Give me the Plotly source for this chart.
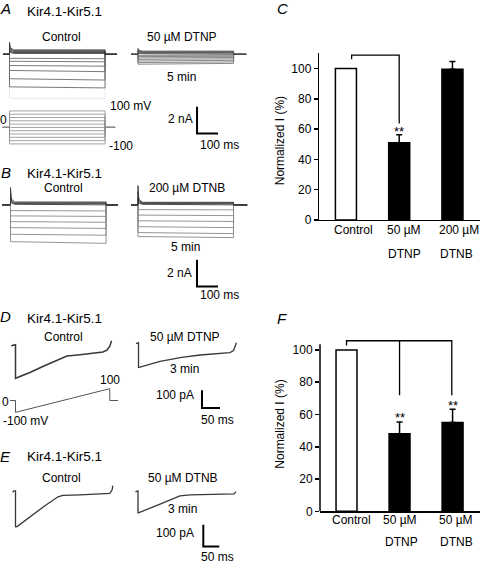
import plotly.graph_objects as go

W, H = 480, 569
FONT = "Arial, Liberation Sans, sans-serif"

# ---------------- data ----------------
# Panel A: Kir4.1-Kir5.1 currents (nA) during 455-ms voltage steps
A_step_ms = 455
A_ctrl_out_peak = [0.90, 0.65, 0.48, 0.36, 0.25]
A_ctrl_out_mid = [0.50, 0.40, 0.30, 0.22, 0.14]
A_ctrl_out_steady = [0.33, 0.27, 0.20, 0.13, 0.07]
A_ctrl_in_start = [-0.30, -0.52, -0.84, -1.21, -1.83, -2.44]
A_ctrl_in_end = [-0.33, -0.56, -0.89, -1.30, -1.93, -2.52]
A_ctrl_faint = [-3.30]
A_dtnp_out_peak = [0.45, 0.34, 0.25, 0.16, 0.09]
A_dtnp_out_mid = [0.30, 0.24, 0.18, 0.12, 0.06]
A_dtnp_out_steady = [0.24, 0.19, 0.14, 0.09, 0.04]
A_dtnp_in_start = [-0.08, -0.17, -0.27, -0.38, -0.50, -0.62, -0.74]
A_dtnp_in_end = [-0.07, -0.15, -0.24, -0.34, -0.45, -0.57, -0.68]
A_step_mV = [100, 80, 60, 40, 20, 0, -20, -40, -60, -80, -100]

# Panel B (nA)
B_ctrl_out_peak = [1.30, 0.90, 0.60, 0.35]
B_ctrl_out_mid = [0.45, 0.35, 0.25, 0.15]
B_ctrl_out_steady = [0.22, 0.16, 0.10, 0.05]
B_ctrl_in_start = [-0.42, -0.82, -1.25, -1.70, -2.20, -2.75]
B_ctrl_in_end = [-0.45, -0.86, -1.30, -1.76, -2.27, -2.88]
B_dtnb_out_peak = [1.45, 1.00, 0.60, 0.35]
B_dtnb_out_mid = [0.45, 0.35, 0.25, 0.15]
B_dtnb_out_steady = [0.20, 0.15, 0.10, 0.05]
B_dtnb_in_start = [-0.35, -0.76, -1.19, -1.63, -2.07, -2.37]
B_dtnb_in_end = [-0.37, -0.80, -1.24, -1.70, -2.15, -2.45]

# Panel D: ramp currents (ms, pA) and ramp protocol (ms, mV)
D_ctrl_t = [-12, -4, 0, 0, 4, 40, 82, 124, 143, 179, 221, 243, 254, 262, 267]
D_ctrl_I = [-6, 0, 0, -189, -186, -156, -117, -81, -64, -56, -47, -41, -31, -8, 22]
D_dtnp_t = [-7, -2, 0, 0, 4, 60, 120, 171, 226, 254, 264, 272]
D_dtnp_I = [6, 10, 11, -128, -126, -94, -71, -58, -50, -44, -33, 11]
D_ramp_t = [-15, 0, 0, 262, 262, 285]
D_ramp_mV = [0, 0, -100, 100, 0, 0]

# Panel E: ramp currents (ms, pA)
E_ctrl_t = [-9, -5, 0, 0, 5, 45, 92, 133, 148, 202, 264, 295, 302, 304]
E_ctrl_I = [-7, 0, 0, -165, -164, -118, -68, -27, -21, -18, -15, -11, 5, 24]
E_dtnb_t = [-8, -3, 0, 0, 3, 69, 131, 163, 241, 300, 306]
E_dtnb_I = [-5, 0, 0, -101, -100, -61, -23, -18, -16, -14, -3]

# Panels C and F: normalized current (%)
C_labels1 = ["Control", "50 µM", "200 µM"]
C_labels2 = ["", "DTNP", "DTNB"]
C_values = [100, 51, 99.6]
C_err = [0, 5.2, 5.0]
F_labels1 = ["Control", "50 µM", "50 µM"]
F_labels2 = ["", "DTNP", "DTNB"]
F_values = [100, 48, 55.1]
F_err = [0, 7.3, 8.2]
C_bracket_y = [106.1, 108.9, 63.7]
F_bracket_y = [102.8, 105.7, 72.0]
C_star = [(1, 58.5)]
F_star = [(1, 58.4), (2, 65.7)]

# ---------------- helpers ----------------
layout = dict(
    width=W, height=H, margin=dict(l=0, r=0, t=0, b=0),
    paper_bgcolor="white", plot_bgcolor="rgba(0,0,0,0)",
    showlegend=False, font=dict(family=FONT, color="black", size=12),
)
fig = go.Figure()


def pix_axes(n, x0, sx, y0, sy):
    layout[f"xaxis{n}"] = dict(domain=[0, 1], range=[-x0 / sx, (W - x0) / sx],
                               visible=False, fixedrange=True, anchor=f"y{n}")
    layout[f"yaxis{n}"] = dict(domain=[0, 1], range=[(y0 - H) / sy, y0 / sy],
                               visible=False, fixedrange=True, anchor=f"x{n}")


def step_xy(t0, T, pre, post, inner):
    xs, ys = [], []
    for pts in inner:
        xs += [t0 - pre, t0] + [t0 + t for t, _ in pts] + [t0 + T, t0 + T + post, None]
        ys += [0, 0] + [v for _, v in pts] + [0, 0, None]
    return xs, ys


def line(n, xs, ys, color, width):
    fig.add_trace(go.Scatter(x=xs, y=ys, mode="lines", xaxis=f"x{n}", yaxis=f"y{n}",
                             line=dict(color=color, width=width), hoverinfo="skip",
                             connectgaps=False))


def outward(T, pk, md, st):
    return [[(0, a), (4, b), (20, c), (T, c)] for a, b, c in zip(pk, md, st)]


def inward(T, s, e):
    return [[(0, a), (T, b)] for a, b in zip(s, e)]


def scalebar(n, t, i, dt, di):
    line(n, [t, t, t + dt], [i + di, i, i], "black", 2)


TRACE = "#6a6a6a"
DARK = "#383838"

# ---------------- Panel A ----------------
pix_axes(3, 9.5, 0.21, 55, 13.5)
T = A_step_ms
xs, ys = step_xy(0, T, 31, 57, inward(T, A_ctrl_faint, A_ctrl_faint))
line(3, xs, ys, "#e2e2e2", 0.8)
xs, ys = step_xy(0, T, 31, 57, inward(T, A_ctrl_in_start, A_ctrl_in_end))
line(3, xs, ys, TRACE, 0.9)
xs, ys = step_xy(0, T, 31, 57, outward(T, A_ctrl_out_peak, A_ctrl_out_mid, A_ctrl_out_steady))
line(3, xs, ys, DARK, 0.9)
t0 = 612
xs, ys = step_xy(t0, T, 33, 60, inward(T, A_dtnp_in_start, A_dtnp_in_end))
line(3, xs, ys, "#7a7a7a", 0.9)
xs, ys = step_xy(t0, T, 33, 60, outward(T, A_dtnp_out_peak, A_dtnp_out_mid, A_dtnp_out_steady))
line(3, xs, ys, "#505050", 0.9)
scalebar(3, 893, -5.93, 100, 2)

pix_axes(4, 9.5, 0.21, 129, 0.167)
xs, ys = step_xy(0, T, 33, 48, [[(0, v), (T, v)] for v in A_step_mV])
line(4, xs, ys, "#8c8c8c", 0.8)

# ---------------- Panel B ----------------
pix_axes(5, 10.5, 0.21, 207.5, 13.5)
xs, ys = step_xy(0, T, 40, 57, inward(T, B_ctrl_in_start, B_ctrl_in_end))
line(5, xs, ys, "#8a8a8a", 0.9)
xs, ys = step_xy(0, T, 40, 57, outward(T, B_ctrl_out_peak, B_ctrl_out_mid, B_ctrl_out_steady))
line(5, xs, ys, DARK, 0.9)
t0 = 607
xs, ys = step_xy(t0, T, 33, 65, inward(T, B_dtnb_in_start, B_dtnb_in_end))
line(5, xs, ys, "#8a8a8a", 0.9)
xs, ys = step_xy(t0, T, 33, 65, outward(T, B_dtnb_out_peak, B_dtnb_out_mid, B_dtnb_out_steady))
line(5, xs, ys, DARK, 0.9)
scalebar(5, 888, -6.11, 100, 2)

# ---------------- Panel D ----------------
pix_axes(6, 15.5, 0.36, 349, 0.18)
line(6, D_ctrl_t, D_ctrl_I, DARK, 1.5)
t0 = 341.7
line(6, [t0 + t for t in D_dtnp_t], D_dtnp_I, DARK, 1.3)
scalebar(6, 518, -355.6, 50, 100)
pix_axes(7, 15.5, 0.36, 405.5, 0.12)
line(7, D_ramp_t, D_ramp_mV, "#555555", 1)

# ---------------- Panel E ----------------
pix_axes(8, 15.5, 0.32, 497, 0.22)
line(8, E_ctrl_t, E_ctrl_I, DARK, 1.3)
t0 = 382.8
line(8, [t0 + t for t in E_dtnb_t], E_dtnb_I, DARK, 1.3)
scalebar(8, 586.9, -255.9, 50, 100)

# ---------------- Bar panels C (x/y) and F (x2/y2) ----------------
BAR_W = 0.395


def bars(ax, vals, errs):
    fig.add_trace(go.Bar(x=[0], y=[vals[0]], width=BAR_W, xaxis=f"x{ax}", yaxis=f"y{ax}",
                         marker=dict(color="white", line=dict(color="black", width=1.5)),
                         hoverinfo="skip"))
    fig.add_trace(go.Bar(x=[1, 2], y=vals[1:], width=BAR_W, xaxis=f"x{ax}", yaxis=f"y{ax}",
                         marker=dict(color="black", line=dict(color="black", width=1.5)),
                         error_y=dict(type="data", symmetric=False, array=errs[1:],
                                      arrayminus=[0, 0], color="black", thickness=1.5, width=3),
                         hoverinfo="skip"))


bars("", C_values, C_err)
bars("2", F_values, F_err)

# brackets
line("", [0.107, 0.107, 1, 1], [C_bracket_y[0], C_bracket_y[1], C_bracket_y[1], C_bracket_y[2]], "black", 1.3)
line("2", [0, 0, 1.985, 1.985], [F_bracket_y[0], F_bracket_y[1], F_bracket_y[1], F_bracket_y[2]], "black", 1.3)
line("2", [1, 1], [F_bracket_y[1], F_bracket_y[2]], "black", 1.3)

xr = [-0.5, 2.517]
layout["xaxis"] = dict(domain=[319.3 / W, 1], range=xr, showline=True, linecolor="black",
                       linewidth=1.5, ticks="", showticklabels=False, showgrid=False,
                       zeroline=False, fixedrange=True, anchor="y")
ycommon = dict(showgrid=False, zeroline=False, ticks="outside", ticklen=4, tickwidth=1.5,
               tickcolor="black", tickvals=[0, 20, 40, 60, 80, 100],
               tickfont=dict(size=12, family=FONT, color="black"), fixedrange=True)
layout["yaxis"] = dict(domain=[1 - 222.7 / H, 1 - 53.3 / H], range=[0, 110.5], showline=True,
                       linecolor="black", linewidth=1.5, anchor="x", **ycommon)
sF = 1.634
layout["xaxis2"] = dict(domain=[320 / W, 1], range=xr, showline=True, linecolor="black",
                        linewidth=1.5, ticks="", showticklabels=False, showgrid=False,
                        zeroline=False, fixedrange=True, anchor="y2")
layout["yaxis2"] = dict(domain=[1 - 517.7 / H, 1 - (517.7 - 110 * sF) / H], range=[0, 110],
                        showline=False, anchor="x2", **ycommon)
layout["shapes"] = [dict(type="line", xref="x2 domain", yref="y2", x0=0, x1=0, y0=0, y1=103.5,
                         line=dict(color="black", width=1.5))]

# ---------------- text ----------------
ann = []


def txt(s, x, y, size=12, xa="center", italic=False):
    ann.append(dict(text=f"<i>{s}</i>" if italic else s, x=x / W, y=1 - y / H, xref="paper",
                    yref="paper", xanchor=xa, yanchor="middle", showarrow=False,
                    font=dict(size=size, family=FONT, color="black")))


for letter, x, y in [("A", 5.5, 9), ("B", 5.5, 175), ("D", 5.5, 320), ("E", 5.5, 462),
                     ("C", 282.5, 9), ("F", 282, 322)]:
    txt(letter, x, y, 15, italic=True)
for y in [11.7, 175.7, 322.5, 462]:
    txt("Kir4.1-Kir5.1", 25, y, 13.5, xa="left")

txt("Control", 61, 37)
txt("50 µM DTNP", 181.7, 37)
txt("5 min", 181.7, 78.3)
txt("100 mV", 108, 107.5, xa="left")
txt("0", 3, 122)
txt("-100", 107, 148, xa="left")
txt("2 nA", 180, 120)
txt("100 ms", 219, 146.7)

txt("Control", 63, 190)
txt("200 µM DTNB", 186.7, 190)
txt("5 min", 185, 250)
txt("2 nA", 179, 276)
txt("100 ms", 219, 299)

txt("Control", 63.3, 341.7)
txt("50 µM DTNP", 185, 341.7)
txt("3 min", 184, 374)
txt("100", 110, 385)
txt("0", 5, 407)
txt("-100 mV", 25.5, 426)
txt("100 pA", 175, 400)
txt("50 ms", 217, 425.7)

txt("Control", 61.7, 484)
txt("50 µM DTNB", 182.7, 484)
txt("3 min", 182.5, 515)
txt("100 pA", 175, 539.3)
txt("50 ms", 217.5, 563.5)

# axis titles
txt_title = dict(text="Normalized I (%)", xref="paper", yref="paper", showarrow=False,
                 textangle=-90, xanchor="center", yanchor="middle",
                 font=dict(size=12, family=FONT, color="black"))
ann.append(dict(txt_title, x=280 / W, y=1 - 143 / H))
ann.append(dict(txt_title, x=280 / W, y=1 - 430 / H))

# bar-chart category labels
C_shift1 = [8, 5, 7]
C_shift2 = [0, 5, 4]
F_shift1 = [5, 0, 3]
F_shift2 = [0, 2, 4]
for i in range(3):
    for labs, shifts, ax, ypx in [(C_labels1, C_shift1, "x", 233.3), (C_labels2, C_shift2, "x", 256.7),
                                   (F_labels1, F_shift1, "x2", 526.7), (F_labels2, F_shift2, "x2", 548.3)]:
        if labs[i]:
            ann.append(dict(text=labs[i], x=i, xref=ax, y=1 - ypx / H, yref="paper",
                            xshift=shifts[i], showarrow=False, xanchor="center", yanchor="middle",
                            font=dict(size=12, family=FONT, color="black")))
for x, y in C_star:
    ann.append(dict(text="**", x=x, y=y, xref="x", yref="y", showarrow=False,
                    yanchor="middle", font=dict(size=13, family=FONT, color="black")))
for x, y in F_star:
    ann.append(dict(text="**", x=x, y=y, xref="x2", yref="y2", showarrow=False,
                    yanchor="middle", font=dict(size=13, family=FONT, color="black")))

layout["annotations"] = ann
fig.update_layout(**layout)
fig.write_html(
    "out.html",
    config={"displayModeBar": False, "staticPlot": True},
    post_script="document.body.style.margin='0';document.body.style.overflow='hidden';",
)
